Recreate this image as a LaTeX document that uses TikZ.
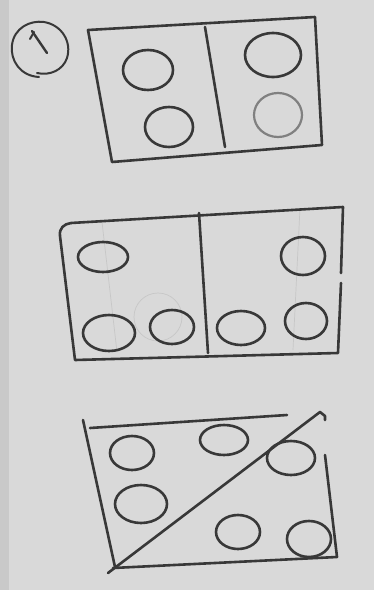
\documentclass[tikz,border=0pt]{standalone}
\begin{document}
\begin{tikzpicture}[x=1pt,y=-1pt,
  ink/.style={draw=black!78,line width=2.6pt,line cap=round,line join=round},
  thin ink/.style={draw=black!50,line width=2.2pt,line cap=round},
  faint/.style={draw=black!22,line width=0.7pt}]
\fill[gray!30!white] (0,0) rectangle (374,590);
\fill[gray!42!white] (0,0) rectangle (9,590);
\useasboundingbox (0,0) rectangle (374,590);
% label 1
\draw[ink,line width=2pt] (39,77) .. controls (20,76) and (10,60) .. (12,45) .. controls (14,28) and (30,20) .. (44,22) .. controls (62,25) and (72,42) .. (67,58) .. controls (63,70) and (50,76) .. (37,73);
\draw[ink,line width=2.4pt] (32,31) -- (47,53);
\draw[ink,line width=2pt] (30,39) -- (34,32);
% rectangle 1
\draw[ink] (88,30) -- (315,17) -- (322,145) -- (112,162) -- cycle;
\draw[ink] (205,27) -- (225,147);
\draw[ink] (148,70) ellipse [x radius=25,y radius=20];
\draw[ink] (169,127) ellipse [x radius=24,y radius=20];
\draw[ink] (273,55) ellipse [x radius=28,y radius=22];
\draw[thin ink] (278,115) ellipse [x radius=24,y radius=22];
% rectangle 2
\draw[faint] (102,222) -- (117,352);
\draw[faint] (300,208) -- (293,350);
\draw[faint] (158,317) circle [radius=24];
\draw[ink] (71,223) -- (343,207) -- (341,273);
\draw[ink] (341,283) -- (338,353) -- (75,360) -- (60,236) .. controls (59,228) and (64,224) .. (71,223);
\draw[ink] (199,213) -- (208,353);
\draw[ink] (103,257) ellipse [x radius=25,y radius=15];
\draw[ink] (109,333) ellipse [x radius=26,y radius=18];
\draw[ink] (172,327) ellipse [x radius=22,y radius=17];
\draw[ink] (241,328) ellipse [x radius=24,y radius=17];
\draw[ink] (306,321) ellipse [x radius=21,y radius=18];
\draw[ink] (303,256) ellipse [x radius=22,y radius=19];
% rectangle 3
\draw[ink] (83,420) -- (115,567);
\draw[ink] (90,428) -- (287,415);
\draw[ink] (108,573) -- (320,412) -- (325,416) -- (325,420);
\draw[ink] (325,455) -- (337,557) -- (113,568);
\draw[ink] (132,453) ellipse [x radius=22,y radius=17];
\draw[ink] (224,440) ellipse [x radius=24,y radius=15];
\draw[ink] (291,458) ellipse [x radius=24,y radius=17];
\draw[ink] (141,504) ellipse [x radius=26,y radius=19];
\draw[ink] (238,532) ellipse [x radius=22,y radius=17];
\draw[ink] (309,539) ellipse [x radius=22,y radius=18];
\end{tikzpicture}
\end{document}
